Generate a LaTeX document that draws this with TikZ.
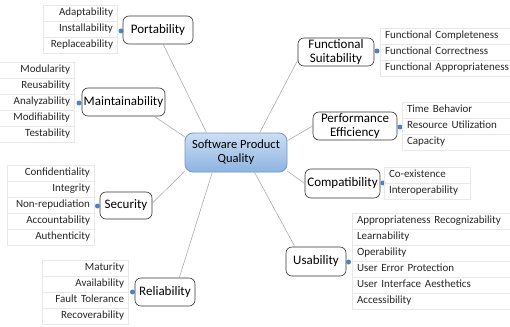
\documentclass[tikz,border=0pt]{standalone}
\usepackage{fontspec}
\setmainfont{Carlito}
\definecolor{dotblue}{HTML}{4F81BD}
\definecolor{qtop}{HTML}{CCDEF3}
\definecolor{qbot}{HTML}{8DB4E2}
\definecolor{qline}{HTML}{7596C4}
\tikzset{
  branch/.style={draw=black!80, line width=0.6pt, rounded corners=6pt, fill=white,
    inner sep=1pt, align=center, font=\fontsize{13}{14}\selectfont},
  leaf/.style={draw=gray!18, line width=0.6pt, minimum height=16pt, inner ysep=0pt,
    text height=8pt, text depth=2.5pt, font=\fontsize{11}{12}\selectfont, text=black!85},
  leafL/.style={leaf, inner xsep=4pt, align=right, text width=#1},
  leafR/.style={leaf, inner xsep=5pt, align=left, text width=#1},
  dot/.style={circle, fill=dotblue, inner sep=0pt, minimum size=5pt},
  link/.style={draw=gray!75, line width=0.5pt}
}
\begin{document}
\begin{tikzpicture}[x=1pt,y=-1pt]
\useasboundingbox (0,0) rectangle (510,326);
%\draw[step=10,gray!30,very thin] (0,0) grid (510,326); %background grid

% centre
\node[draw=qline, line width=0.8pt, rounded corners=8pt, top color=qtop, bottom color=qbot,
  minimum width=102pt, minimum height=39pt, inner sep=1pt, align=center,
  font=\fontsize{12.5}{14}\selectfont] (spq) at (236,152.5) {Software Product\\Quality};

% characteristics
\node[branch, minimum width=70pt, minimum height=28pt] (port)   at (158,30)    {Portability};
\node[branch, minimum width=83pt, minimum height=28pt] (maint)  at (123.5,102) {Maintainability};
\node[branch, minimum width=52pt, minimum height=27pt] (secur)  at (126,205.5) {Security};
\node[branch, minimum width=60pt, minimum height=28pt] (reli)   at (165,292)   {Reliability};
\node[branch, minimum width=76pt, minimum height=28pt] (fsuit)  at (336,52)    {Functional\\Suitability};
\node[branch, minimum width=84pt, minimum height=28pt] (perf)   at (355,126)   {Performance\\Efficiency};
\node[branch, minimum width=75pt, minimum height=29pt] (compat) at (342.5,183.5) {Compatibility};
\node[branch, minimum width=60pt, minimum height=29pt] (usab)   at (316,261.5) {Usability};

\draw[link] (spq.146) -- (port.290);
\draw[link] (spq.163) -- (maint.335);
\draw[link] (spq.200) -- (secur.5);
\draw[link] (spq.220) -- (reli.45);
\draw[link] (spq.40)  -- (fsuit.192);
\draw[link] (spq.13)  -- (perf.west);
\draw[link] (spq.340) -- (compat.west);
\draw[link] (spq.313) -- (usab.145);

% dots
\node[dot] (portdot)   at (121,31)  {};
\node[dot] (maintdot)  at (79,103)  {};
\node[dot] (securdot)  at (97.5,206) {};
\node[dot] (relidot)   at (132.5,292) {};
\node[dot] (fsuitdot)  at (377,51)  {};
\node[dot] (perfdot)   at (400,127) {};
\node[dot] (compatdot) at (383,183) {};
\node[dot] (usabdot)   at (348.5,262) {};

% sub-characteristics, left
\node[leafL=66pt] (port1) at (80,13) {Adaptability};
\node[leafL=66pt] (port2) at (80,29) {Installability};
\node[leafL=66pt] (port3) at (80,45) {Replaceability};

\node[leafL=68pt] (maint1) at (36,70)  {Modularity};
\node[leafL=68pt] (maint2) at (36,86)  {Reusability};
\node[leafL=68pt] (maint3) at (36,102) {Analyzability};
\node[leafL=68pt] (maint4) at (36,118) {Modifiability};
\node[leafL=68pt] (maint5) at (36,134) {Testability};

\node[leafL=79pt] (secur1) at (50.5,173) {Confidentiality};
\node[leafL=79pt] (secur2) at (50.5,189) {Integrity};
\node[leafL=79pt] (secur3) at (50.5,205) {Non-repudiation};
\node[leafL=79pt] (secur4) at (50.5,221) {Accountability};
\node[leafL=79pt] (secur5) at (50.5,237) {Authenticity};

\node[leafL=78pt] (reli1) at (85,268) {Maturity};
\node[leafL=78pt] (reli2) at (85,284) {Availability};
\node[leafL=78pt] (reli3) at (85,300) {Fault Tolerance};
\node[leafL=78pt] (reli4) at (85,316) {Recoverability};

% sub-characteristics, right
\node[leafR=130pt] (fsuit1) at (450,36) {Functional Completeness};
\node[leafR=130pt] (fsuit2) at (450,52) {Functional Correctness};
\node[leafR=130pt] (fsuit3) at (450,68) {Functional Appropriateness};

\node[leafR=110pt] (perf1) at (462,110) {Time Behavior};
\node[leafR=110pt] (perf2) at (462,126) {Resource Utilization};
\node[leafR=110pt] (perf3) at (462,142) {Capacity};

\node[leafR=76pt] (compat1) at (427,175) {Co-existence};
\node[leafR=76pt] (compat2) at (427,191) {Interoperability};

\node[leafR=160pt] (usab1) at (437,221) {Appropriateness Recognizability};
\node[leafR=160pt] (usab2) at (437,237) {Learnability};
\node[leafR=160pt] (usab3) at (437,253) {Operability};
\node[leafR=160pt] (usab4) at (437,269) {User Error Protection};
\node[leafR=160pt] (usab5) at (437,285) {User Interface Aesthetics};
\node[leafR=160pt] (usab6) at (437,301) {Accessibility};
\end{tikzpicture}
\end{document}
